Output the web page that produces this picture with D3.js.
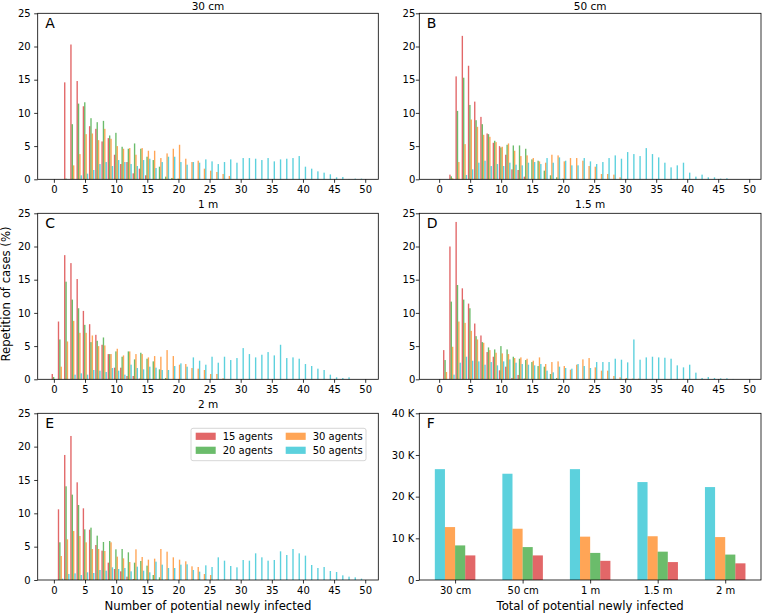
<!DOCTYPE html>
<html><head><meta charset="utf-8">
<script src="https://cdn.jsdelivr.net/npm/d3@7"></script>
<style>
body{margin:0;background:#fff}
svg{display:block}
text{font-family:"DejaVu Sans",sans-serif;fill:#000}
</style>
</head><body>
<svg id="chart" width="762" height="615"></svg>
<script>
// ---------------- DATA ----------------
const seriesNames = ["15 agents", "20 agents", "30 agents", "50 agents"];
const distances = ["30 cm", "50 cm", "1 m", "1.5 m", "2 m"];
const panelLetters = ["A", "B", "C", "D", "E", "F"];
const histXTicks = [0, 5, 10, 15, 20, 25, 30, 35, 40, 45, 50];
const histYTicks = [0, 5, 10, 15, 20, 25];
const totYTicks = [0, 10, 20, 30, 40];

// Repetition of cases (%) per number of potential newly infected (index = 0,1,2,...)
// 30 cm
const a15 = [0,0,14.6,20.3,14.8,11.0,8.0,7.6,5.7,6.2,3.7,2.3,2.6,0.9,1.6,0.6];
const a20 = [0,0,0.1,8.3,11.4,11.6,9.2,8.6,8.8,6.6,7.0,4.9,4.6,5.4,4.6,3.4,2.9,1.9,0.4,0.2,0.1];
const a30 = [0,0,0,2.1,3.8,6.8,6.9,5.9,7.6,6.1,5.0,4.6,4.7,3.7,4.7,4.3,4.3,3.2,3.9,4.6,5.2,3.1,2.6,2.8,1.6,1.3,1.1,0.8,0.5];
const a50 = [0,0,0,0,0.6,0.85,1.4,2.3,2.6,2.0,2.9,2.6,2.3,2.0,2.9,3.1,1.7,2.6,3.4,3.4,2.6,2.2,2.6,2.5,3.0,2.7,2.3,2.6,3.0,2.5,3.2,3.2,3.1,2.9,3.2,2.7,3.0,3.1,3.2,3.5,1.9,1.6,1.2,1.0,0.75,0.3,0.35,0.05,0.1,0.1];
// 50 cm
const b15 = [0,0,0.7,15.5,21.6,17.1,11.7,9.4,6.9,5.5,5.0,3.7,1.5,1.4,0.4];
const b20 = [0,0,0.45,10.3,15.3,11.2,8.9,8.3,6.8,5.8,4.8,5.2,5.1,5.1,4.6,3.0,2.8,1.3,0.6,0.3,0.1];
const b30 = [0,0,0.15,2.6,5.3,9.0,7.9,6.7,6.4,5.6,4.9,5.4,4.3,3.5,3.6,3.2,2.7,2.5,3.7,3.6,2.7,3.2,3.2,2.8,2.0,1.9,0.8,0.8,0.7,0.3,0.05];
const b50 = [0,0,0,0,0.65,1.5,2.5,2.8,2.0,2.3,2.0,2.5,2.2,2.1,2.5,2.6,2.3,3.2,2.5,3.3,2.8,2.1,2.1,3.2,2.7,2.3,2.6,3.2,3.6,3.1,4.1,3.8,3.5,4.7,3.8,3.3,2.5,1.8,2.1,2.5,1.0,0.4,0.7,0.3,0.3,0.1,0.15];
// 1 m
const c15 = [0.8,8.7,18.7,17.5,15.1,10.3,8.3,6.7,5.2,3.8,1.75,1.75,0.5,0.5,0.1];
const c20 = [0.35,6.0,14.7,12.0,10.7,8.2,5.6,5.8,6.3,3.8,4.2,3.4,4.2,3.0,4.0,3.1,2.7,1.5,0.2];
const c30 = [0,1.9,5.7,8.8,7.0,7.0,6.6,5.0,5.1,3.8,4.6,3.6,4.2,3.8,3.8,3.3,3.5,3.4,4.4,3.5,2.2,2.3,1.7,1.6,1.4,0.8,0.8,0.15];
const c50 = [0,0,0,0.7,0.9,0.7,1.4,1.3,1.1,1.7,1.3,0.7,2.2,1.7,1.5,1.9,1.75,1.4,1.4,2.0,2.4,1.9,3.3,2.8,2.2,3.4,2.5,3.4,2.9,3.2,4.7,3.8,3.3,3.7,4.1,3.6,5.2,3.2,3.3,3.1,2.3,2.0,1.6,1.4,0.7,0.3,0.2,0.3];
// 1.5 m
const d15 = [0,4.4,20.0,23.7,13.7,11.4,8.4,6.6,4.1,3.4,1.35,1.9,0.2,0.65,0.1];
const d20 = [0,2.9,11.7,14.2,12.0,10.7,6.5,5.6,4.8,4.5,5.0,4.5,3.4,3.1,2.9,2.6,2.0,1.9,0.8,0.2,0.05];
const d30 = [0,1.1,4.9,8.7,8.5,7.3,6.0,5.5,4.4,4.0,3.9,3.8,3.2,3.3,3.1,2.8,3.3,2.3,2.6,2.7,2.0,1.45,2.2,3.0,3.2,1.8,1.3,1.3,0.5,0.3,0.2,0.1,0.1];
const d50 = [0,0,0.7,2.5,3.4,2.8,2.7,2.2,2.6,2.1,2.7,3.0,2.5,2.3,2.2,2.1,2.3,1.3,1.05,1.9,1.7,1.6,2.3,2.0,1.7,2.6,2.6,2.6,3.1,2.95,2.55,6.0,2.95,3.3,3.4,3.3,3.25,3.1,2.1,1.8,2.2,1.0,0.2,0.35,0.2,0.15,0.15,0.05];
// 2 m
const e15 = [0,10.6,18.75,21.6,14.65,10.75,7.55,5.25,4.4,2.6,1.65,1.3,0.5,0.15];
const e20 = [0,5.65,14.05,12.8,11.25,7.6,7.85,6.65,5.7,5.85,4.6,4.65,4.15,2.6,2.85,2.15,0.75,0.4,0.05];
const e30 = [0,3.6,6.1,7.35,6.6,5.65,4.65,4.65,4.35,5.65,3.5,3.25,2.7,4.6,3.45,3.05,3.2,4.65,4.25,3.4,3.05,2.8,2.05,1.95,0.9,0.75,0.05];
const e50 = [0,0.2,0.9,1.0,0.75,1.15,1.05,1.5,1.4,1.9,1.65,1.8,1.3,2.0,1.4,1.15,2.75,2.3,1.8,1.8,2.3,2.35,1.5,1.25,2.2,1.95,3.4,2.9,2.1,1.9,3.0,2.9,4.0,3.4,2.9,3.0,4.3,3.75,4.65,4.0,3.65,2.25,1.8,1.95,1.35,1.2,0.7,0.5,0.4,0.2];

// Totals of potential newly infected (thousands) per distance
const total50 = [26.6, 25.5, 26.6, 23.5, 22.3];
const total30 = [12.7, 12.3, 10.4, 10.5, 10.3];
const total20 = [8.3, 7.9, 6.5, 6.8, 6.1];
const total15 = [5.9, 5.9, 4.6, 4.3, 4.0];

// ---------------- STYLE / LAYOUT ----------------
const colors = ["#d62728", "#2ca02c", "#ff7f0e", "#17becf"];
const alpha = 0.7;
const svg = d3.select("#chart");

const colL = {x0: 37.7, x1: 378.3, xd: [-2.6, 52.1], pad: 3.5};
const colR = {x0: 419.3, x1: 761, xd: [-3.2, 51.9], pad: 0.5};
const rows = [{y0: 13.3, y1: 179.3, ty: 9.5}, {y0: 213.3, y1: 379.3, ty: 207.8}, {y0: 413.3, y1: 580, ty: 407.8}];

const histPanels = [
  {col: colL, row: rows[0], title: distances[0], letter: panelLetters[0], data: [a15, a20, a30, a50]},
  {col: colR, row: rows[0], title: distances[1], letter: panelLetters[1], data: [b15, b20, b30, b50]},
  {col: colL, row: rows[1], title: distances[2], letter: panelLetters[2], data: [c15, c20, c30, c50]},
  {col: colR, row: rows[1], title: distances[3], letter: panelLetters[3], data: [d15, d20, d30, d50]},
  {col: colL, row: rows[2], title: distances[4], letter: panelLetters[4], data: [e15, e20, e30, e50]},
];

const barOffsets = [-0.26, -0.04, 0.18, 0.40];
const barW = 0.22;

function styleAxis(g) {
  g.select(".domain").remove();
  g.selectAll(".tick line").attr("stroke", "#000").attr("stroke-width", 0.8);
  g.selectAll(".tick text").attr("font-size", 10).attr("fill", "#000")
    .attr("font-family", "DejaVu Sans, sans-serif");
}

function frame(x0, x1, y0, y1) {
  svg.append("rect").attr("x", x0).attr("y", y0).attr("width", x1 - x0).attr("height", y1 - y0)
    .attr("fill", "none").attr("stroke", "#000").attr("stroke-width", 0.8);
}

histPanels.forEach(p => {
  const xs = d3.scaleLinear().domain(p.col.xd).range([p.col.x0, p.col.x1]);
  const ys = d3.scaleLinear().domain([0, 25]).range([p.row.y1, p.row.y0]);
  const g = svg.append("g");
  p.data.forEach((arr, si) => {
    const pts = arr.map((v, k) => ({k, v})).filter(d => d.v > 0);
    g.selectAll(null).data(pts).enter().append("rect")
      .attr("x", d => xs(d.k + barOffsets[si] - barW / 2))
      .attr("width", xs(barW) - xs(0))
      .attr("y", d => ys(d.v))
      .attr("height", d => ys(0) - ys(d.v))
      .attr("fill", colors[si]).attr("fill-opacity", alpha);
  });
  const gx = svg.append("g").attr("transform", `translate(0,${p.row.y1})`)
    .call(d3.axisBottom(xs).tickValues(histXTicks).tickSize(3.5).tickPadding(3));
  styleAxis(gx);
  const gy = svg.append("g").attr("transform", `translate(${p.col.x0},0)`)
    .call(d3.axisLeft(ys).tickValues(histYTicks).tickSize(3.5).tickPadding(p.col.pad));
  styleAxis(gy);
  frame(p.col.x0, p.col.x1, p.row.y0, p.row.y1);
  svg.append("text").attr("x", (p.col.x0 + p.col.x1) / 2).attr("y", p.row.ty)
    .attr("text-anchor", "middle").attr("font-size", 10.5).text(p.title);
  svg.append("text").attr("x", p.col.x0 + 7.5).attr("y", p.row.y0 + 15)
    .attr("font-size", 14).text(p.letter);
});

// ---------------- Panel F ----------------
{
  const col = colR, row = rows[2];
  const xs = d3.scaleLinear().domain([-0.53, 4.53]).range([col.x0, col.x1]);
  const ys = d3.scaleLinear().domain([0, 40]).range([row.y1, row.y0]);
  const groups = [
    {vals: total50, color: colors[3], off: -0.225},
    {vals: total30, color: colors[2], off: -0.075},
    {vals: total20, color: colors[1], off: 0.075},
    {vals: total15, color: colors[0], off: 0.225},
  ];
  const bw = 0.15;
  groups.forEach(gr => {
    svg.append("g").selectAll("rect").data(gr.vals).enter().append("rect")
      .attr("x", (d, i) => xs(i + gr.off - bw / 2))
      .attr("width", xs(bw) - xs(0))
      .attr("y", d => ys(d))
      .attr("height", d => ys(0) - ys(d))
      .attr("fill", gr.color).attr("fill-opacity", alpha);
  });
  const gx = svg.append("g").attr("transform", `translate(0,${row.y1})`)
    .call(d3.axisBottom(xs).tickValues(d3.range(distances.length)).tickFormat(i => distances[i])
      .tickSize(3.5).tickPadding(3));
  styleAxis(gx);
  const gy = svg.append("g").attr("transform", `translate(${col.x0},0)`)
    .call(d3.axisLeft(ys).tickValues(totYTicks).tickFormat(d => d === 0 ? "0" : d + " K")
      .tickSize(3.5).tickPadding(1.5));
  styleAxis(gy);
  frame(col.x0, col.x1, row.y0, row.y1);
  svg.append("text").attr("x", col.x0 + 7.5).attr("y", row.y0 + 15)
    .attr("font-size", 14).text(panelLetters[5]);
  svg.append("text").attr("x", (col.x0 + col.x1) / 2).attr("y", 609.5)
    .attr("text-anchor", "middle").attr("font-size", 11.7).text("Total of potential newly infected");
}

// ---------------- Legend (panel E) ----------------
{
  const lg = svg.append("g");
  lg.append("rect").attr("x", 191).attr("y", 428.3).attr("width", 175).attr("height", 32.4)
    .attr("rx", 2).attr("fill", "#fff").attr("fill-opacity", 0.8)
    .attr("stroke", "#ccc").attr("stroke-width", 0.8);
  const pos = [[195.7, 432.7], [195.7, 446.7], [285.7, 432.7], [285.7, 446.7]];
  seriesNames.forEach((n, i) => {
    lg.append("rect").attr("x", pos[i][0]).attr("y", pos[i][1]).attr("width", 20).attr("height", 7.2)
      .attr("fill", colors[i]).attr("fill-opacity", alpha);
    lg.append("text").attr("x", pos[i][0] + 27).attr("y", pos[i][1] + 7.2)
      .attr("font-size", 10).text(n);
  });
}

// ---------------- Axis labels ----------------
svg.append("text").attr("x", (colL.x0 + colL.x1) / 2).attr("y", 609.5)
  .attr("text-anchor", "middle").attr("font-size", 11.7).text("Number of potential newly infected");
svg.append("text").attr("transform", "translate(10,294) rotate(-90)")
  .attr("text-anchor", "middle").attr("font-size", 11.7).text("Repetition of cases (%)");
</script>
</body></html>
